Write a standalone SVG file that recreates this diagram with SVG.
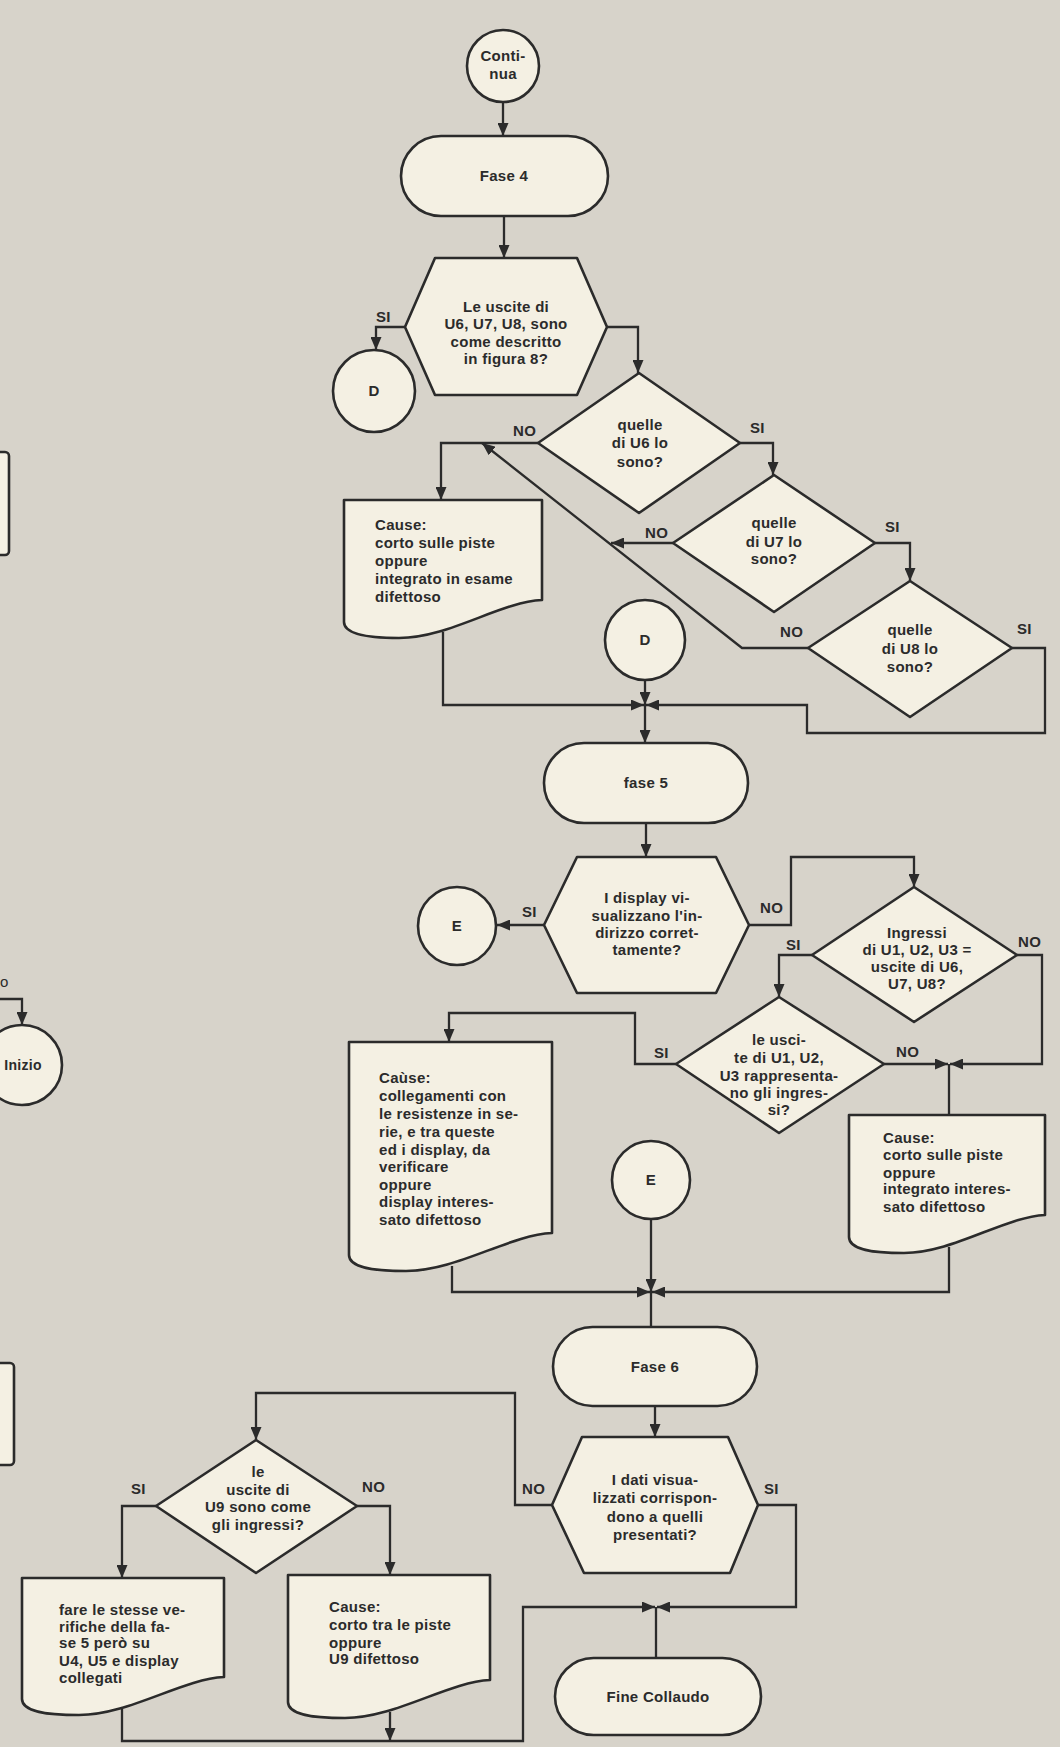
<svg xmlns="http://www.w3.org/2000/svg" width="1060" height="1747" viewBox="0 0 1060 1747">
<defs>
<marker id="ah" viewBox="0 0 13 11" refX="13" refY="5.5" markerWidth="13" markerHeight="11" markerUnits="userSpaceOnUse" orient="auto">
<path d="M0,0 L13,5.5 L0,11 z" fill="#2b2b2b"/>
</marker>
</defs>
<style>
.bg{fill:#d7d3ca}
.n{fill:#f4f0e3;stroke:#2b2b2b;stroke-width:2.6;stroke-linejoin:round}
.c{fill:none;stroke:#2b2b2b;stroke-width:2.3;stroke-linejoin:miter}
.a{marker-end:url(#ah)}
text{font-family:"Liberation Sans",Arial,sans-serif;font-weight:bold;font-size:15px;fill:#2b2b2b;letter-spacing:0.3px}
.m{text-anchor:middle}
.l{font-size:14px}
</style>
<rect class="bg" x="0" y="0" width="1060" height="1747"/>

<g id="frag">
<rect class="n" x="-20" y="452" width="29" height="103" rx="4"/>
<rect class="n" x="-20" y="1363" width="34" height="102" rx="4"/>
<text x="0" y="987" style="font-weight:normal">o</text>
<path class="c a" d="M0,999 H22 V1025"/>
<circle class="n" cx="22" cy="1065" r="40"/>
<text class="m l" x="23" y="1070">Inizio</text>
</g>

<g id="connectors">
<path class="c a" d="M503,102 V136"/>
<path class="c a" d="M504,216 V258"/>
<path class="c a" d="M405,327 H376 V350"/>
<path class="c a" d="M607,327 H638 V373"/>
<path class="c a" d="M538,443 H441 V500"/>
<path class="c a" d="M740,443 H773 V475"/>
<path class="c a" d="M673,543 H611"/>
<path class="c a" d="M875,543 H910 V581"/>
<path class="c a" d="M808,648 H742 L482,443"/>
<path class="c a" d="M1012,648 H1045 V733 H807 V705 H646"/>
<path class="c a" d="M443,632 V705 H644"/>
<path class="c a" d="M645,680 V705"/>
<path class="c a" d="M645,705 V743"/>
<path class="c a" d="M646,823 V857"/>
<path class="c a" d="M544,925 H497"/>
<path class="c a" d="M749,925 H791 V857 H914 V887"/>
<path class="c a" d="M812,955 H779 V997"/>
<path class="c a" d="M1017,955 H1042 V1064 H950"/>
<path class="c a" d="M676,1064 H635 V1013 H449 V1042"/>
<path class="c a" d="M884,1064 H948"/>
<path class="c" d="M949,1064 V1115"/>
<path class="c a" d="M949,1247 V1292 H652"/>
<path class="c a" d="M452,1266 V1292 H650"/>
<path class="c a" d="M651,1219 V1292"/>
<path class="c" d="M651,1292 V1327"/>
<path class="c a" d="M655,1406 V1437"/>
<path class="c a" d="M552,1505 H515 V1393 H256 V1440"/>
<path class="c a" d="M758,1505 H796 V1607 H657"/>
<path class="c a" d="M156,1506 H122 V1578"/>
<path class="c a" d="M357,1506 H390 V1575"/>
<path class="c" d="M122,1709 V1741 H390"/>
<path class="c a" d="M390,1712 V1741"/>
<path class="c a" d="M390,1741 H523 V1607 H655"/>
<path class="c" d="M656,1658 V1607"/>
</g>

<g id="continua">
<circle class="n" cx="503" cy="66" r="36"/>
<text class="m" x="503" y="61">Conti-</text>
<text class="m" x="503" y="79">nua</text>
</g>
<g id="fase4">
<rect class="n" x="401" y="136" width="207" height="80" rx="40"/>
<text class="m" x="504" y="181">Fase 4</text>
</g>
<g id="q1">
<polygon class="n" points="405,327 435,258 577,258 607,327 577,395 435,395"/>
<text class="m" x="506" y="312">Le uscite di</text>
<text class="m" x="506" y="329">U6, U7, U8, sono</text>
<text class="m" x="506" y="347">come descritto</text>
<text class="m" x="506" y="364">in figura 8?</text>
<text x="376" y="322">SI</text>
</g>
<g id="d1">
<circle class="n" cx="374" cy="391" r="41"/>
<text class="m" x="374" y="396">D</text>
</g>
<g id="qU6">
<polygon class="n" points="639,373 740,443 639,513 538,443"/>
<text class="m" x="640" y="430">quelle</text>
<text class="m" x="640" y="448">di U6 lo</text>
<text class="m" x="640" y="467">sono?</text>
<text x="513" y="436">NO</text>
<text x="750" y="433">SI</text>
</g>
<g id="qU7">
<polygon class="n" points="774,475 875,543 774,612 673,543"/>
<text class="m" x="774" y="528">quelle</text>
<text class="m" x="774" y="547">di U7 lo</text>
<text class="m" x="774" y="564">sono?</text>
<text x="645" y="538">NO</text>
<text x="885" y="532">SI</text>
</g>
<g id="qU8">
<polygon class="n" points="910,581 1012,648 910,717 808,648"/>
<text class="m" x="910" y="635">quelle</text>
<text class="m" x="910" y="654">di U8 lo</text>
<text class="m" x="910" y="672">sono?</text>
<text x="780" y="637">NO</text>
<text x="1017" y="634">SI</text>
</g>
<g id="cause1">
<path class="n" d="M344,500 H542 V600 C500,602 449,638 399,638 C370,638 344,635 344,622 Z"/>
<text x="375" y="530">Cause:</text>
<text x="375" y="548">corto sulle piste</text>
<text x="375" y="566">oppure</text>
<text x="375" y="584">integrato in esame</text>
<text x="375" y="602">difettoso</text>
</g>
<g id="d2">
<circle class="n" cx="645" cy="640" r="40"/>
<text class="m" x="645" y="645">D</text>
</g>
<g id="fase5">
<rect class="n" x="544" y="743" width="204" height="80" rx="40"/>
<text class="m" x="646" y="788">fase 5</text>
</g>
<g id="q2">
<polygon class="n" points="544,925 577,857 716,857 749,925 716,993 577,993"/>
<text class="m" x="647" y="903">I display vi-</text>
<text class="m" x="647" y="921">sualizzano l'in-</text>
<text class="m" x="647" y="938">dirizzo corret-</text>
<text class="m" x="647" y="955">tamente?</text>
<text x="522" y="917">SI</text>
<text x="760" y="913">NO</text>
</g>
<g id="e1">
<circle class="n" cx="457" cy="926" r="39"/>
<text class="m" x="457" y="931">E</text>
</g>
<g id="q3">
<polygon class="n" points="914,887 1017,955 914,1022 812,955"/>
<text class="m" x="917" y="938">Ingressi</text>
<text class="m" x="917" y="955">di U1, U2, U3 =</text>
<text class="m" x="917" y="972">uscite di U6,</text>
<text class="m" x="917" y="989">U7, U8?</text>
<text x="786" y="950">SI</text>
<text x="1018" y="947">NO</text>
</g>
<g id="q4">
<polygon class="n" points="779,997 884,1064 779,1133 676,1064"/>
<text class="m" x="779" y="1045">le usci-</text>
<text class="m" x="779" y="1063">te di U1, U2,</text>
<text class="m" x="779" y="1081">U3 rappresenta-</text>
<text class="m" x="779" y="1098">no gli ingres-</text>
<text class="m" x="779" y="1115">si?</text>
<text x="654" y="1058">SI</text>
<text x="896" y="1057">NO</text>
</g>
<g id="cause2">
<path class="n" d="M349,1042 H552 V1233 C509,1235 457,1271 406,1271 C375,1271 349,1268 349,1255 Z"/>
<text x="379" y="1083">Caùse:</text>
<text x="379" y="1101">collegamenti con</text>
<text x="379" y="1119">le resistenze in se-</text>
<text x="379" y="1137">rie, e tra queste</text>
<text x="379" y="1155">ed i display, da</text>
<text x="379" y="1172">verificare</text>
<text x="379" y="1190">oppure</text>
<text x="379" y="1207">display interes-</text>
<text x="379" y="1225">sato difettoso</text>
</g>
<g id="cause3">
<path class="n" d="M849,1115 H1045 V1215 C1004,1217 953,1253 904,1253 C874,1253 849,1250 849,1237 Z"/>
<text x="883" y="1143">Cause:</text>
<text x="883" y="1160">corto sulle piste</text>
<text x="883" y="1178">oppure</text>
<text x="883" y="1194">integrato interes-</text>
<text x="883" y="1212">sato difettoso</text>
</g>
<g id="e2">
<circle class="n" cx="651" cy="1180" r="39"/>
<text class="m" x="651" y="1185">E</text>
</g>
<g id="fase6">
<rect class="n" x="553" y="1327" width="204" height="79" rx="39.5"/>
<text class="m" x="655" y="1372">Fase 6</text>
</g>
<g id="q5">
<polygon class="n" points="552,1505 582,1437 728,1437 758,1505 730,1573 584,1573"/>
<text class="m" x="655" y="1485">I dati visua-</text>
<text class="m" x="655" y="1503">lizzati corrispon-</text>
<text class="m" x="655" y="1522">dono a quelli</text>
<text class="m" x="655" y="1540">presentati?</text>
<text x="522" y="1494">NO</text>
<text x="764" y="1494">SI</text>
</g>
<g id="q6">
<polygon class="n" points="256,1440 357,1506 256,1573 156,1506"/>
<text class="m" x="258" y="1477">le</text>
<text class="m" x="258" y="1495">uscite di</text>
<text class="m" x="258" y="1512">U9 sono come</text>
<text class="m" x="258" y="1530">gli ingressi?</text>
<text x="131" y="1494">SI</text>
<text x="362" y="1492">NO</text>
</g>
<g id="box5">
<path class="n" d="M22,1578 H224 V1677 C182,1679 129,1715 79,1715 C48,1715 22,1712 22,1699 Z"/>
<text x="59" y="1615">fare le stesse ve-</text>
<text x="59" y="1632">rifiche della fa-</text>
<text x="59" y="1648">se 5 però su</text>
<text x="59" y="1666">U4, U5 e display</text>
<text x="59" y="1683">collegati</text>
</g>
<g id="box4">
<path class="n" d="M288,1575 H490 V1680 C448,1682 395,1718 345,1718 C314,1718 288,1715 288,1702 Z"/>
<text x="329" y="1612">Cause:</text>
<text x="329" y="1630">corto tra le piste</text>
<text x="329" y="1648">oppure</text>
<text x="329" y="1664">U9 difettoso</text>
</g>
<g id="fine">
<rect class="n" x="555" y="1658" width="206" height="77" rx="38.5"/>
<text class="m" x="658" y="1702">Fine Collaudo</text>
</g>
</svg>
